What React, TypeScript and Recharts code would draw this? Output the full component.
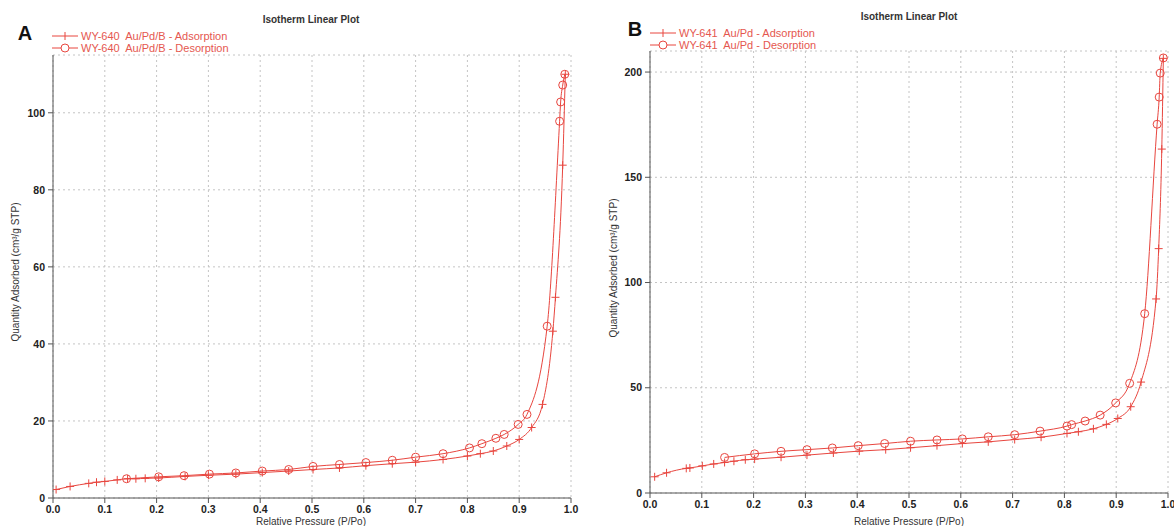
import React from 'react';
import { LineChart, Line, XAxis, YAxis, CartesianGrid } from 'recharts';

// Panel A: WY-640 Au/Pd/B
const aAdsP = [0.006, 0.033, 0.069, 0.084, 0.1, 0.124, 0.144, 0.16, 0.178, 0.204, 0.255, 0.3, 0.353, 0.404, 0.455, 0.502, 0.553, 0.604, 0.655, 0.7, 0.753, 0.8, 0.825, 0.85, 0.876, 0.9, 0.924, 0.945, 0.965, 0.97, 0.984, 0.989];
const aAdsQ = [2.2, 3.0, 3.8, 4.1, 4.3, 4.7, 5.0, 5.0, 5.1, 5.2, 5.6, 5.9, 6.2, 6.6, 7.0, 7.4, 7.8, 8.4, 8.9, 9.3, 10.0, 10.9, 11.5, 12.2, 13.5, 15.2, 18.3, 24.3, 43.3, 52.1, 86.4, 110];
const aDesP = [0.142, 0.204, 0.253, 0.302, 0.353, 0.404, 0.455, 0.502, 0.553, 0.604, 0.655, 0.7, 0.753, 0.804, 0.828, 0.855, 0.871, 0.898, 0.915, 0.954, 0.978, 0.98, 0.984, 0.988];
const aDesQ = [5.0, 5.5, 5.8, 6.2, 6.5, 7.0, 7.4, 8.2, 8.7, 9.2, 9.8, 10.6, 11.5, 13.0, 14.1, 15.5, 16.5, 19.1, 21.7, 44.6, 97.8, 102.8, 107.2, 110];

// Panel B: WY-641 Au/Pd
const bAdsP = [0.009, 0.032, 0.07, 0.077, 0.101, 0.123, 0.144, 0.162, 0.184, 0.202, 0.253, 0.303, 0.354, 0.404, 0.455, 0.503, 0.554, 0.603, 0.653, 0.704, 0.755, 0.805, 0.827, 0.856, 0.881, 0.903, 0.928, 0.948, 0.977, 0.982, 0.988, 0.991];
const bAdsQ = [7.7, 9.6, 11.7, 11.9, 12.9, 13.8, 14.5, 15.1, 15.8, 16.1, 17.0, 18.0, 19.0, 19.9, 20.6, 21.5, 22.5, 23.5, 24.3, 25.4, 26.5, 28.3, 29.1, 30.5, 32.6, 35.4, 41.0, 52.7, 92.2, 116.1, 163.4, 206.5];
const bDesP = [0.144, 0.202, 0.253, 0.303, 0.352, 0.402, 0.453, 0.503, 0.554, 0.603, 0.653, 0.704, 0.753, 0.805, 0.814, 0.84, 0.869, 0.899, 0.926, 0.955, 0.979, 0.983, 0.985, 0.991];
const bDesQ = [16.9, 18.6, 19.8, 20.6, 21.4, 22.5, 23.5, 24.6, 25.2, 25.7, 26.7, 27.7, 29.4, 31.8, 32.5, 34.2, 37.0, 42.8, 52.1, 85.2, 175.2, 188.1, 199.5, 206.7];

const xTicks = [0, 0.1, 0.2, 0.3, 0.4, 0.5, 0.6, 0.7, 0.8, 0.9, 1.0];
const xMinor = [0.02, 0.04, 0.06, 0.08, 0.12, 0.14, 0.16, 0.18, 0.22, 0.24, 0.26, 0.28, 0.32, 0.34, 0.36, 0.38, 0.42, 0.44, 0.46, 0.48, 0.52, 0.54, 0.56, 0.58, 0.62, 0.64, 0.66, 0.68, 0.72, 0.74, 0.76, 0.78, 0.82, 0.84, 0.86, 0.88, 0.92, 0.94, 0.96, 0.98];
const aYTicks = [0, 20, 40, 60, 80, 100];
const aYMinor = [5, 10, 15, 25, 30, 35, 45, 50, 55, 65, 70, 75, 85, 90, 95, 105, 110];
const bYTicks = [0, 50, 100, 150, 200];
const bYMinor = [10, 20, 30, 40, 60, 70, 80, 90, 110, 120, 130, 140, 160, 170, 180, 190];

const RED = '#e8463f';
const LEGEND_RED = '#e5574f';
const FONT = '"Liberation Sans", Arial, sans-serif';

const toPts = (p: number[], q: number[]) => p.map((v, i) => ({ p: v, q: q[i] }));

const PlusDot = (props: any) => {
  const { cx, cy, index } = props;
  if (cx == null || cy == null) return <g key={`p-${index}`} />;
  return (
    <path
      key={`p-${index}`}
      d={`M${cx - 4},${cy}H${cx + 4}M${cx},${cy - 4}V${cy + 4}`}
      stroke={RED}
      strokeWidth={1}
      fill="none"
    />
  );
};

const CircleDot = (props: any) => {
  const { cx, cy, index } = props;
  if (cx == null || cy == null) return <g key={`c-${index}`} />;
  return <circle key={`c-${index}`} cx={cx} cy={cy} r={4} stroke={RED} strokeWidth={1} fill="none" />;
};

const tickStyle = { fontSize: 10.5, fontWeight: 'bold' as const, fill: '#222', fontFamily: FONT };

interface PanelProps {
  left: number;
  width: number;
  margin: { top: number; right: number; bottom: number; left: number };
  yWidth: number;
  xHeight: number;
  yMax: number;
  yTicks: number[];
  yMinor: number[];
  ads: { p: number; q: number }[];
  des: { p: number; q: number }[];
}

const Panel: React.FC<PanelProps> = ({ left, width, margin, yWidth, xHeight, yMax, yTicks, yMinor, ads, des }) => (
  <div style={{ position: 'absolute', left, top: 0 }}>
    <LineChart width={width} height={526} margin={margin}>
      <CartesianGrid stroke="#c4c4c4" strokeDasharray="2 3" />
      <XAxis
        dataKey="p"
        type="number"
        domain={[0, 1]}
        ticks={xTicks}
        interval={0}
        height={xHeight}
        tickFormatter={(v: number) => v.toFixed(1)}
        tick={tickStyle}
        tickSize={5}
        tickMargin={3}
        stroke="#555"
        allowDataOverflow
      />
      <XAxis xAxisId="minor" type="number" dataKey="p" domain={[0, 1]} ticks={xMinor} interval={0} mirror tick={false} axisLine={false} tickSize={3} stroke="#777" height={0} />
      <XAxis xAxisId="top" orientation="top" type="number" dataKey="p" domain={[0, 1]} mirror tick={false} tickLine={false} stroke="#555" height={0} />
      <YAxis
        type="number"
        domain={[0, yMax]}
        ticks={yTicks}
        interval={0}
        width={yWidth}
        tick={tickStyle}
        tickSize={5}
        tickMargin={3}
        stroke="#555"
        allowDataOverflow
      />
      <YAxis yAxisId="minor" type="number" domain={[0, yMax]} ticks={yMinor} interval={0} mirror tick={false} axisLine={false} tickSize={3} stroke="#777" width={0} />
      <YAxis yAxisId="right" orientation="right" type="number" domain={[0, yMax]} mirror tick={false} tickLine={false} stroke="#555" width={0} />
      <Line data={ads} dataKey="q" type="monotone" stroke={RED} strokeWidth={1} dot={(p: any) => <PlusDot key={`a-${p.index}`} {...p} />} isAnimationActive={false} />
      <Line data={des} dataKey="q" type="monotone" stroke={RED} strokeWidth={1} dot={(p: any) => <CircleDot key={`d-${p.index}`} {...p} />} isAnimationActive={false} />
    </LineChart>
  </div>
);

const LegendRow: React.FC<{ x: number; y: number; marker: 'plus' | 'circle'; text: string }> = ({ x, y, marker, text }) => (
  <div style={{ position: 'absolute', left: x, top: y - 7, height: 14, display: 'flex', alignItems: 'center', whiteSpace: 'pre' }}>
    <svg width={26} height={14} style={{ display: 'block' }}>
      <line x1={0} y1={7} x2={26} y2={7} stroke={RED} strokeWidth={1} />
      {marker === 'plus' ? (
        <path d="M13,3V11" stroke={RED} strokeWidth={1} />
      ) : (
        <circle cx={13} cy={7} r={4} stroke={RED} fill="white" strokeWidth={1} />
      )}
    </svg>
    <span style={{ marginLeft: 3, fontFamily: FONT, fontSize: 11, color: LEGEND_RED, whiteSpace: 'pre' }}>{text}</span>
  </div>
);

const abs = (x: number, y: number, extra: React.CSSProperties = {}): React.CSSProperties => ({
  position: 'absolute',
  left: x,
  top: y,
  transform: 'translate(-50%, -50%)',
  whiteSpace: 'nowrap',
  fontFamily: FONT,
  ...extra,
});

export default function App() {
  return (
    <div style={{ position: 'absolute', left: 0, top: 0, width: 1174, height: 526, background: '#fff', overflow: 'hidden' }}>
      <Panel
        left={0}
        width={600}
        margin={{ top: 55, right: 29, bottom: 0, left: 0 }}
        yWidth={53}
        xHeight={28}
        yMax={115}
        yTicks={aYTicks}
        yMinor={aYMinor}
        ads={toPts(aAdsP, aAdsQ)}
        des={toPts(aDesP, aDesQ)}
      />
      <Panel
        left={590}
        width={584}
        margin={{ top: 51, right: 6, bottom: 0, left: 0 }}
        yWidth={60}
        xHeight={33}
        yMax={210}
        yTicks={bYTicks}
        yMinor={bYMinor}
        ads={toPts(bAdsP, bAdsQ)}
        des={toPts(bDesP, bDesQ)}
      />

      {/* panel A text */}
      <div style={abs(25, 33, { fontSize: 20, fontWeight: 'bold', color: '#111' })}>A</div>
      <div style={abs(311, 19, { fontSize: 10, fontWeight: 'bold', color: '#333' })}>Isotherm Linear Plot</div>
      <LegendRow x={52} y={36} marker="plus" text="WY-640  Au/Pd/B - Adsorption" />
      <LegendRow x={52} y={48} marker="circle" text="WY-640  Au/Pd/B - Desorption" />
      <div style={abs(15, 272, { fontSize: 10, color: '#333', transform: 'translate(-50%, -50%) rotate(-90deg)' })}>
        Quantity Adsorbed (cm³/g STP)
      </div>
      <div style={abs(311, 521, { fontSize: 10, color: '#333' })}>Relative Pressure (P/Po)</div>

      {/* panel B text */}
      <div style={abs(635, 29, { fontSize: 20, fontWeight: 'bold', color: '#111' })}>B</div>
      <div style={abs(909, 16, { fontSize: 10, fontWeight: 'bold', color: '#333' })}>Isotherm Linear Plot</div>
      <LegendRow x={650} y={33} marker="plus" text="WY-641  Au/Pd - Adsorption" />
      <LegendRow x={650} y={45} marker="circle" text="WY-641  Au/Pd - Desorption" />
      <div style={abs(613, 268, { fontSize: 10, color: '#333', transform: 'translate(-50%, -50%) rotate(-90deg)' })}>
        Quantity Adsorbed (cm³/g STP)
      </div>
      <div style={abs(909, 521, { fontSize: 10, color: '#333' })}>Relative Pressure (P/Po)</div>
    </div>
  );
}
